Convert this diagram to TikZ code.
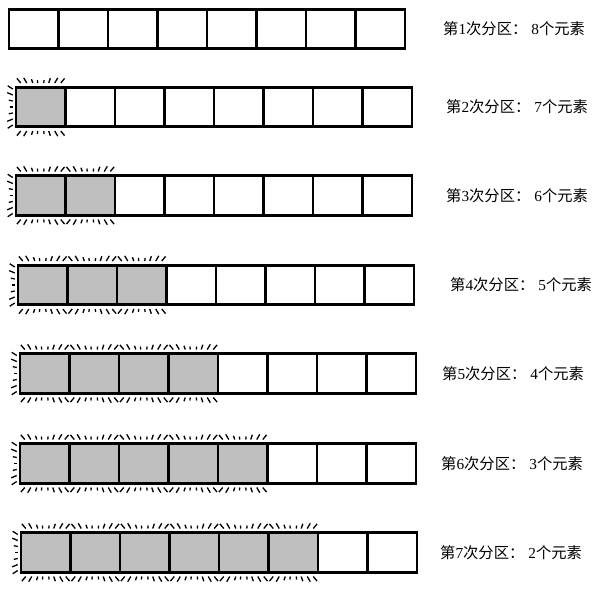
\documentclass[tikz,border=0pt]{standalone}
\usepackage{fontspec}
\setmainfont{Liberation Serif}
\newfontfamily\cjk{Noto Sans CJK SC}
\usetikzlibrary{calc}

\tikzset{
  cell/.style={rectangle, draw, line width=2.6pt, minimum width=49.5pt, minimum height=39.5pt, inner sep=0pt, fill=white},
  done/.style={cell, fill=black!25},
  glint/.style={line width=1.3pt, line cap=butt},
  rowlabel/.style={anchor=west, inner sep=0pt, font=\fontsize{15.3}{17}\selectfont}
}

\begin{document}
\begin{tikzpicture}[x=1pt, y=-1pt]
    \useasboundingbox (0,0) rectangle (593,591);

    % rows of cells, the first (row-1) cells are already placed
    \foreach \row/\lx/\cy/\tx in {1/8/29/443, 2/15/107/446, 3/15/195.5/446, 4/17/285/450, 5/19/373.5/442, 6/19/463.5/441, 7/20/552.5/440} {
        \foreach \col in {1,...,8} {
            \pgfmathsetmacro\cx{\lx+1+24.75+(\col-1)*49.5}
            \ifnum\col<\row
                \node[done] (r\row c\col) at (\cx,\cy) {};
            \else
                \node[cell] (r\row c\col) at (\cx,\cy) {};
            \fi
        }
        % partition label
        \pgfmathtruncatemacro\left{9-\row}
        \node[rowlabel] (t\row) at (\tx,\cy) {{\cjk 第}\row{\cjk 次分区：}\hspace{4pt}\left{\cjk 个元素}};
    }

    % glow marks round the placed cells
    \foreach \row in {2,...,7} {
        \pgfmathtruncatemacro\last{\row-1}
        \foreach \col in {1,...,\last} {
            \foreach \d/\l in {-20/6,-14/6,-8/4,-3/3,3/3,8/5,14/6,20/6} {
                \path (r\row c\col.center) ++(\d,-24) coordinate (p);
                \draw[glint] (p) -- ($(p)!-\l pt!(r\row c\col.center)$);
                \path (r\row c\col.center) ++(\d,24) coordinate (p);
                \draw[glint] (p) -- ($(p)!-\l pt!(r\row c\col.center)$);
            }
        }
        \foreach \e/\l in {-18/6,-12/6,-6/4,0/3,6/4,12/6,18/6} {
            \path (r\row c1.center) ++(-28,\e) coordinate (p);
            \draw[glint] (p) -- ($(p)!-\l pt!(r\row c1.center)$);
        }
    }
\end{tikzpicture}
\end{document}
